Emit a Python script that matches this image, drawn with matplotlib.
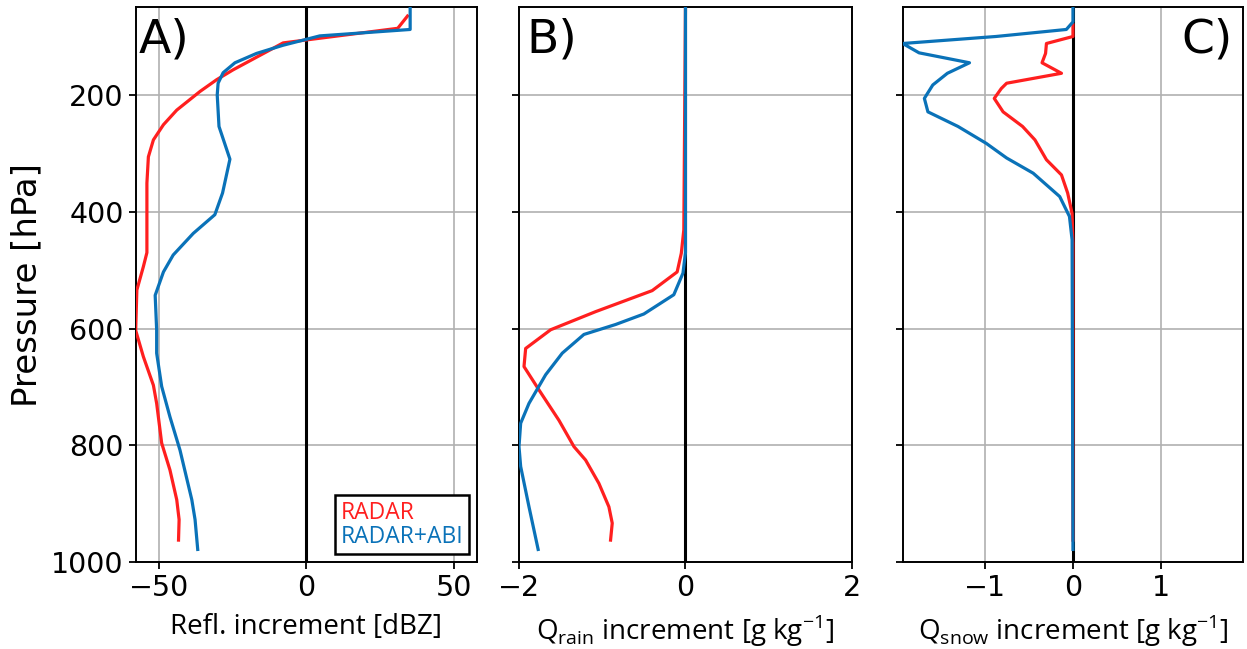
import matplotlib
matplotlib.use("Agg")
import matplotlib.pyplot as plt

# panel A: reflectivity increment [dBZ]
refl_radar_x = [34.2, 30.9, -7.9, -24.8, -30.4, -36.0, -43.9, -48.4, -51.8, -53.5, -54.0, -54.0,
                -55.2, -57.4, -57.8, -55.2, -51.8, -50.7, -49.0, -46.2, -43.9, -43.1, -43.3]
refl_radar_p = [65, 86, 111, 157, 174, 194, 226, 251, 277, 306, 351, 470,
                494, 534, 603, 648, 697, 728, 796, 842, 893, 927, 962]
refl_abi_x = [35.1, 35.1, 4.5, -7.9, -16.9, -24.2, -28.2, -29.9, -30.2, -29.6, -25.9, -28.4,
              -31.0, -38.3, -45.1, -48.4, -51.2, -50.7, -50.7, -49.0, -46.2, -42.8, -38.8, -37.7, -36.8]
refl_abi_p = [50, 88, 99, 115, 129, 145, 162, 180, 200, 254, 310, 368,
              405, 437, 474, 503, 543, 602, 642, 699, 751, 808, 893, 927, 978]

# panel B: rain mixing ratio increment [g/kg]
qrain_radar_x = [0.0, -0.02, -0.05, -0.10, -0.40, -1.08, -1.62, -1.92, -1.94, -1.76, -1.52,
                 -1.34, -1.20, -1.04, -0.92, -0.88, -0.90]
qrain_radar_p = [50, 431, 471, 503, 535, 571, 602, 634, 665, 705, 757,
                 802, 825, 865, 905, 933, 962]
qrain_abi_x = [0.0, 0.0, -0.03, -0.14, -0.50, -0.84, -1.22, -1.48, -1.68, -1.88, -1.98,
               -2.00, -1.98, -1.88, -1.77]
qrain_abi_p = [50, 470, 505, 542, 575, 593, 610, 642, 679, 728, 762,
               802, 836, 905, 978]

# panel C: snow mixing ratio increment [g/kg]
qsnow_radar_x = [0.0, 0.0, -0.30, -0.31, -0.35, -0.13, -0.75, -0.81, -0.89, -0.79, -0.57,
                 -0.43, -0.30, -0.13, -0.06, -0.01, 0.0, 0.0]
qsnow_radar_p = [80, 100, 112, 129, 145, 163, 180, 189, 206, 229, 254,
                 277, 311, 337, 368, 403, 454, 962]
qsnow_abi_x = [0.0, 0.0, -0.075, -0.87, -1.925, -1.74, -1.17, -1.42, -1.585, -1.68, -1.64,
               -1.30, -0.98, -0.75, -0.45, -0.15, -0.04, -0.01, 0.0]
qsnow_abi_p = [50, 75, 88, 100, 112, 128, 145, 163, 183, 206, 229,
               254, 283, 308, 334, 374, 408, 448, 978]

red = "#ff1f1f"
blue = "#0a72b8"

plt.rcParams["mathtext.fontset"] = "custom"
plt.rcParams["mathtext.rm"] = "Open Sans"

fig = plt.figure(figsize=(12.47, 6.49), dpi=100)
bottom, height = 0.1336, 0.8552
axA = fig.add_axes([0.1088, bottom, 0.2739, height])
axB = fig.add_axes([0.4162, bottom, 0.2670, height])
axC = fig.add_axes([0.7239, bottom, 0.2731, height])

panels = [
    (axA, refl_radar_x, refl_radar_p, refl_abi_x, refl_abi_p, [-50, 0, 50],
     "Refl. increment [dBZ]", "A)"),
    (axB, qrain_radar_x, qrain_radar_p, qrain_abi_x, qrain_abi_p, [-2, 0, 2],
     r"Q$_{\mathregular{rain}}$ increment [g kg$^{\mathregular{-1}}$]", "B)"),
    (axC, qsnow_radar_x, qsnow_radar_p, qsnow_abi_x, qsnow_abi_p, [-1, 0, 1],
     r"Q$_{\mathregular{snow}}$ increment [g kg$^{\mathregular{-1}}$]", "C)"),
]

for ax, rx, rp, bx, bp, xt, xl, tag in panels:
    m = max(abs(v) for v in rx + bx)
    ax.grid(True, color="#b0b0b0", lw=1.2, zorder=0)
    ax.axvline(0, color="black", lw=2.2, zorder=1)
    ax.plot(rx, rp, color=red, lw=2.3, label="RADAR", zorder=3)
    ax.plot(bx, bp, color=blue, lw=2.3, label="RADAR+ABI", zorder=3)
    ax.set_xlim(-m, m)
    ax.set_ylim(1000, 50)
    ax.set_xticks(xt)
    ax.set_yticks([200, 400, 600, 800, 1000])
    ax.tick_params(labelsize=20.5, length=5, width=1.3)
    ax.set_xlabel(xl, fontsize=20, family="Open Sans", labelpad=8)
    for s in ax.spines.values():
        s.set_linewidth(1.4)
    ax.set_axisbelow(True)

axA.text(0.01, 0.982, "A)", transform=axA.transAxes, fontsize=34, va="top", ha="left")
axB.text(0.023, 0.982, "B)", transform=axB.transAxes, fontsize=34, va="top", ha="left")
axC.text(0.97, 0.982, "C)", transform=axC.transAxes, fontsize=34, va="top", ha="right")

axA.set_ylabel("Pressure [hPa]", fontsize=24.5, labelpad=6)
axB.tick_params(labelleft=False)
axC.tick_params(labelleft=False)

leg = axA.legend(loc="lower right", handlelength=0, handletextpad=0, fancybox=False,
                 framealpha=1, edgecolor="black", borderaxespad=0.35,
                 prop={"family": "Open Sans", "size": 16.5}, labelspacing=0.0,
                 borderpad=0.25)
leg.get_frame().set_linewidth(1.8)
for txt, c in zip(leg.get_texts(), [red, blue]):
    txt.set_color(c)
for h in leg.legend_handles:
    h.set_visible(False)

fig.savefig("out.png", dpi=100)
